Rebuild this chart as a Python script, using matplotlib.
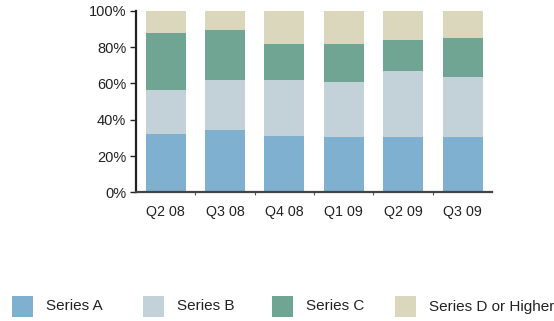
import numpy as np
import matplotlib.pyplot as plt
from matplotlib.patches import Rectangle
from matplotlib.ticker import PercentFormatter

plt.rcParams.update({
    "font.family": ["Liberation Sans", "DejaVu Sans"],
    "font.size": 10,
})

quarters = ["Q2 08", "Q3 08", "Q4 08", "Q1 09", "Q2 09", "Q3 09"]
series_names = ["Series A", "Series B", "Series C", "Series D or Higher"]
series_a = [32.0, 34.5, 31.0, 30.5, 30.5, 30.5]
series_b = [24.5, 27.5, 31.0, 30.5, 36.5, 33.0]
series_c = [31.5, 27.5, 19.5, 20.5, 17.0, 21.5]
series_d = [12.0, 10.5, 18.5, 18.5, 16.0, 15.0]
colors = ["#7fb0cf", "#c3d2d8", "#70a593", "#dbd7bd"]

W, H = 554, 321
fig = plt.figure(figsize=(W / 100, H / 100), dpi=100)
ax = fig.add_axes([0.2455, 0.401, 0.643, 0.565])

x = np.arange(len(quarters))
bottom = np.zeros(len(quarters))
for vals, col in zip([series_a, series_b, series_c, series_d], colors):
    ax.bar(x, vals, width=0.675, bottom=bottom, color=col, linewidth=0)
    bottom += np.array(vals)

ax.set_xlim(-0.5, len(quarters) - 0.5)
ax.set_ylim(0, 100)
ax.set_yticks(np.arange(0, 101, 20))
ax.yaxis.set_major_formatter(PercentFormatter(decimals=0))
ax.set_xticks(x)
ax.set_xticklabels(quarters)
ax.set_xticks(np.arange(0.5, len(quarters) - 1, 1), minor=True)
ax.tick_params(axis="x", which="major", length=0, pad=9, labelsize=10.3, colors="#222222")
ax.tick_params(axis="x", which="minor", length=2, width=0.8, color="#555555")
ax.tick_params(axis="y", length=4, width=1, pad=3, labelsize=10.5, colors="#222222")

for side in ["top", "right"]:
    ax.spines[side].set_visible(False)
ax.spines["left"].set_linewidth(1.6)
ax.spines["left"].set_color("#222222")
ax.spines["bottom"].set_linewidth(1.6)
ax.spines["bottom"].set_color("#444444")

# legend row along the bottom, laid out by hand in pixel units
key_left = [12, 143, 272, 395]
key_size = 21
key_mid = 306.5
for px, name, col in zip(key_left, series_names, colors):
    fig.add_artist(Rectangle((px / W, (H - key_mid - key_size / 2) / H),
                             key_size / W, key_size / H,
                             transform=fig.transFigure, facecolor=col,
                             edgecolor="none"))
    fig.text((px + key_size + 13) / W, (H - key_mid) / H, name,
             fontsize=11, va="center", ha="left", color="#222222")

fig.savefig("out.png", dpi=100)
